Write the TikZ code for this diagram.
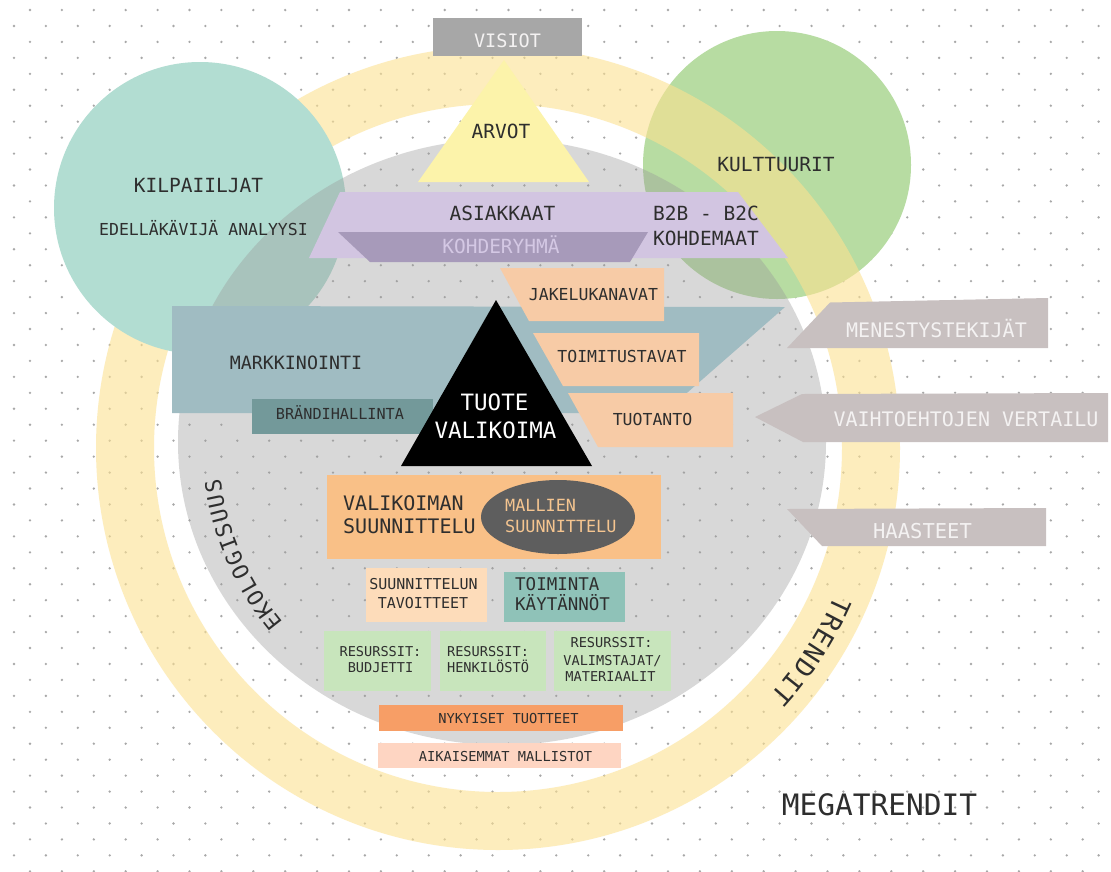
\documentclass[tikz,border=0pt]{standalone}
\usepackage{fontspec}
\newfontfamily\mono{DejaVu Sans Mono}
\definecolor{dotc}{HTML}{A8A8A8}
\definecolor{ringc}{HTML}{FCE191}
\definecolor{greyc}{HTML}{9A9A9A}
\definecolor{tealc}{HTML}{B2DDD2}
\definecolor{greenc}{HTML}{B7DCA2}
\definecolor{visc}{HTML}{A7A7A7}
\definecolor{arvc}{HTML}{FCF3AA}
\definecolor{purc}{HTML}{D2C5E1}
\definecolor{purd}{HTML}{A79ABA}
\definecolor{markc}{HTML}{A0BCC2}
\definecolor{brandc}{HTML}{73999A}
\definecolor{orc}{HTML}{F7CBA6}
\definecolor{valc}{HTML}{F9C087}
\definecolor{ellc}{HTML}{5E5E5E}
\definecolor{tavc}{HTML}{FDDCBA}
\definecolor{toimc}{HTML}{8FC2B8}
\definecolor{resc}{HTML}{C8E5BC}
\definecolor{nykc}{HTML}{F79E66}
\definecolor{aikc}{HTML}{FED5C2}
\definecolor{arrc}{HTML}{C8C0C0}
\definecolor{txtc}{HTML}{2E2E2E}
\definecolor{lightc}{HTML}{F4F2F2}
\definecolor{kohc}{HTML}{D4C8E4}
\definecolor{mallc}{HTML}{F5C590}
\begin{document}
\begin{tikzpicture}[x=1pt,y=-1pt,
  lab/.style={font=\mono\fontsize{#1pt}{#1pt}\selectfont, inner sep=0pt, text=txtc, anchor=base, yshift=-0.365*#1pt},
  letter/.style={font=\mono\fontsize{#1pt}{#1pt}\selectfont, inner sep=0pt, text=txtc, anchor=center}]
\useasboundingbox (0,0) rectangle (1111,871);
\fill[white] (0,0) rectangle (1111,871);
% dot grid
\foreach \k in {0,...,27} {
  \foreach \j in {0,...,34} {
    \fill[dotc] ({30+31.9*\j},{10+31.9*\k}) circle[radius=1.3];
    \fill[dotc] ({14+31.9*\j},{25.95+31.9*\k}) circle[radius=1.3];
  }
}
% big background shapes
\fill[greenc] (777,165) circle[radius=134];
\fill[ringc, opacity=0.6, even odd rule] (498,448) circle[radius=402] (498,448) circle[radius=344];
\fill[tealc] (200,208) circle[radius=146];
\fill[greyc, opacity=0.38] (502,442) ellipse[x radius=324, y radius=303];
% top
\fill[visc] (433,18) rectangle (582,56);
\fill[arvc] (504,60) -- (589,182) -- (418,182) -- cycle;
\fill[purc] (340,192) -- (738,192) -- (788,258) -- (309,258) -- cycle;
\fill[purd] (338,232) -- (648,232) -- (630,262) -- (370,262) -- cycle;
% markkinointi
\fill[markc] (172,306) -- (785,307) -- (664,413) -- (172,413) -- cycle;
\fill[brandc] (252,399) rectangle (433,434);
% orange boxes
\fill[orc] (500,268) -- (664,268) -- (664,321) -- (529,321) -- cycle;
\fill[orc] (533,333) -- (699,333) -- (699,386) -- (563,386) -- cycle;
\fill[orc] (568,393) -- (733,393) -- (733,447) -- (598,447) -- cycle;
% black triangle
\fill[black] (496,300) -- (592,466) -- (401,466) -- cycle;
% lower boxes
\fill[valc] (327,475) rectangle (661,559);
\fill[ellc] (558,517) ellipse[x radius=77, y radius=37];
\fill[tavc] (366,568) rectangle (487,622);
\fill[toimc] (504,572) rectangle (625,622);
\fill[resc] (324,631) rectangle (431,691);
\fill[resc] (440,631) rectangle (546,691);
\fill[resc] (554,631) rectangle (671,691);
\fill[nykc] (379,705) rectangle (623,731);
\fill[aikc] (378,743) rectangle (621,768);
% arrows
\fill[arrc] (830,302.5) -- (1048,298) -- (1048,348) -- (787,348) -- cycle;
\fill[arrc] (755,417) -- (802,394) -- (1108,393) -- (1108,442) -- (803,442) -- cycle;
\fill[arrc] (787,509) -- (1046,508) -- (1046,546) -- (822,546) -- cycle;
% texts
\node[lab=18.5, text=lightc] (visiot) at (507.5,40.5) {VISIOT};
\node[lab=19.5] (arvot) at (501,131) {ARVOT};
\node[lab=19.5] (kilp) at (198.5,185) {KILPAIILJAT};
\node[lab=16.5] (edel) at (203.5,229) {EDELLÄKÄVIJÄ ANALYYSI};
\node[lab=19.5] (kult) at (776,164.5) {KULTTUURIT};
\node[lab=19.5] (asia) at (502.5,213.5) {ASIAKKAAT};
\node[lab=19.5, text=kohc] (kohd) at (501,246) {KOHDERYHMÄ};
\node[lab=19.5, anchor=base west] (b2b) at (653,213) {B2B - B2C};
\node[lab=19.5, anchor=base west] (kohdemaat) at (653,238.5) {KOHDEMAAT};
\node[lab=16.5] (jake) at (593.5,294) {JAKELUKANAVAT};
\node[lab=16.5] (toim) at (622,356.5) {TOIMITUSTAVAT};
\node[lab=16.5] (tuot) at (652.5,419) {TUOTANTO};
\node[lab=18.3] (mark) at (296,363) {MARKKINOINTI};
\node[lab=15.2] (brand) at (340,414) {BRÄNDIHALLINTA};
\node[lab=22.5, text=white] (tuote) at (494.5,402) {TUOTE};
\node[lab=22.5, text=white] (valik) at (495.5,430) {VALIKOIMA};
\node[lab=20, anchor=base west] (val1) at (343,503) {VALIKOIMAN};
\node[lab=20, anchor=base west] (val2) at (343,526.5) {SUUNNITTELU};
\node[lab=16.8, anchor=base west, text=mallc] (mal1) at (505,505) {MALLIEN};
\node[lab=16.8, anchor=base west, text=mallc] (mal2) at (505,526) {SUUNNITTELU};
\node[lab=15] (tav1) at (423.5,584.5) {SUUNNITTELUN};
\node[lab=15] (tav2) at (423,603) {TAVOITTEET};
\node[lab=17.5, anchor=base west] (toi1) at (515,584.5) {TOIMINTA};
\node[lab=17.5, anchor=base west] (toi2) at (515,604) {KÄYTÄNNÖT};
\node[lab=13.6] (r1a) at (380.5,652) {RESURSSIT:};
\node[lab=13.6] (r1b) at (380.5,668) {BUDJETTI};
\node[lab=13.6] (r2a) at (488,652) {RESURSSIT:};
\node[lab=13.6] (r2b) at (488,668) {HENKILÖSTÖ};
\node[lab=13.6] (r3a) at (611.5,643) {RESURSSIT:};
\node[lab=13.6] (r3b) at (612.5,661) {VALIMSTAJAT/};
\node[lab=13.6] (r3c) at (610.5,676.5) {MATERIAALIT};
\node[lab=13.7] (nyk) at (508.5,718.5) {NYKYISET TUOTTEET};
\node[lab=13.7] (aik) at (505.5,756.5) {AIKAISEMMAT MALLISTOT};
\node[lab=20, text=lightc] (menes) at (936.5,330) {MENESTYSTEKIJÄT};
\node[lab=20, text=lightc] (vaiht) at (966,419) {VAIHTOEHTOJEN VERTAILU};
\node[lab=20.5, text=lightc] (haast) at (922.5,531.5) {HAASTEET};
\node[lab=29.5] (mega) at (879.5,804.5) {MEGATRENDIT};
% curved texts
\foreach \c [count=\k from 0] in {E,K,O,L,O,G,I,S,U,U,S} {
  \pgfmathsetmacro\p{218.2-\k*2.94}
  \node[letter=22, rotate=\p-90] (eko\k) at ({502+292*cos(\p)},{442-292*sin(\p)}) {\c};
}
\foreach \c [count=\k from 0] in {T,R,E,N,D,I,T} {
  \pgfmathsetmacro\p{-24.9-\k*2.7}
  \node[letter=26, rotate=\p-90] (tre\k) at ({498+377*cos(\p)},{448-377*sin(\p)}) {\c};
}
\end{tikzpicture}
\end{document}
